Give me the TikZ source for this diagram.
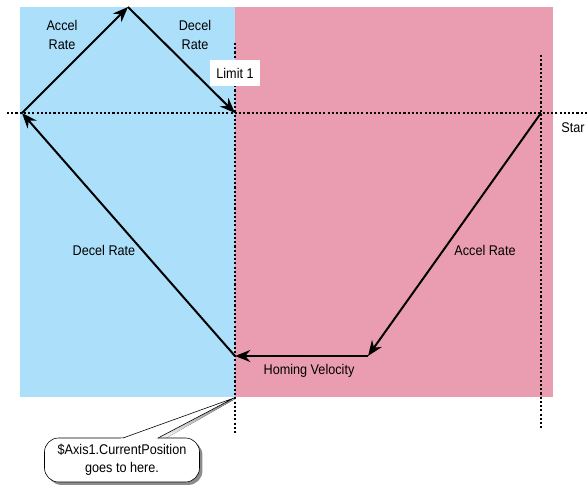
\documentclass[tikz,border=0pt]{standalone}
\usepackage{fontspec}
\setmainfont{Liberation Sans}[FakeStretch=0.9]
\usetikzlibrary{arrows.meta, positioning, calc, shadows}
\definecolor{ink}{HTML}{000000}
\definecolor{zoneneg}{HTML}{ABDFFA}
\definecolor{zonepos}{HTML}{EA9DB0}
\definecolor{shade}{HTML}{8C8C8C}
\tikzset{
  move/.style   = {-{Stealth[length=4.6mm, width=3.6mm, inset=1.5mm]}, draw=ink, line width=1.7pt},
  axis/.style   = {draw=ink, line width=1.8pt, dash pattern=on 1.8pt off 1.8pt},
  lbl/.style    = {font=\fontsize{12}{14.4}\selectfont, text=ink, align=center, inner sep=1pt},
  tag/.style    = {lbl, fill=white, minimum width=15mm, minimum height=7.8mm},
  bubble/.style = {draw=ink, line width=0.5pt, fill=white, rounded corners=12pt,
                   minimum width=46.5mm, minimum height=13.2mm, align=center,
                   font=\fontsize{12}{15}\selectfont,
                   drop shadow={shadow xshift=2.5pt, shadow yshift=-2.5pt, fill=shade, opacity=1}},
}

\begin{document}
\begin{tikzpicture}[x=0.03cm, y=-0.03cm]
  \useasboundingbox (0,0) rectangle (587,485);

  % zones
  \fill[zoneneg] (20,7) rectangle (235,397);
  \fill[zonepos] (235,7) rectangle (553,397);

  % limits and start line
  \draw[axis] (7,113) -- (587,113);
  \draw[axis] (235,43) -- (235,435);
  \draw[axis] (541,55) -- (541,428);
  \node[tag] (lim1) at (235,73) {Limit 1};
  \node[lbl, anchor=west] (startlbl) at (560,128) {Star};

  % homing moves
  \coordinate (start) at (541,113);
  \coordinate (slow) at (368,356);
  \coordinate (home) at (235,356);
  \coordinate (back) at (22,113);
  \coordinate (peak) at (128,7);
  \coordinate (limit) at (235,113);
  \draw[move] (start) -- (slow);
  \draw[move] (slow) -- (home);
  \draw[move] (home) -- (back);
  \draw[move] (back) -- (peak);
  \draw[move] (peak) -- (limit);

  \node[lbl] (acc1) at (62,35) {Accel\\[2.5pt]Rate};
  \node[lbl] (dec1) at (195,35) {Decel\\[2.5pt]Rate};
  \node[lbl] (dec2) at (104,250) {Decel Rate};
  \node[lbl] (acc2) at (485,250) {Accel Rate};
  \node[lbl] (homvel) at (309,371) {Homing Velocity};

  % callout
  \coordinate (tip) at (234,398);
  \coordinate (baseL) at (123,438);
  \coordinate (baseR) at (158,438);
  \fill[shade] ($(tip)+(1,1)$) -- ($(baseR)+(3,3)$) -- ($(baseL)+(3,3)$) -- cycle;
  \node[bubble] (note) at (122,460) {\$Axis1.CurrentPosition\\goes to here.};
  \fill[white] (tip) -- ($(tip)!1.12!(baseL)$) -- ($(tip)!1.12!(baseR)$) -- cycle;
  \draw[ink, line width=0.5pt] (baseL) -- (tip) -- (baseR);
\end{tikzpicture}
\end{document}
